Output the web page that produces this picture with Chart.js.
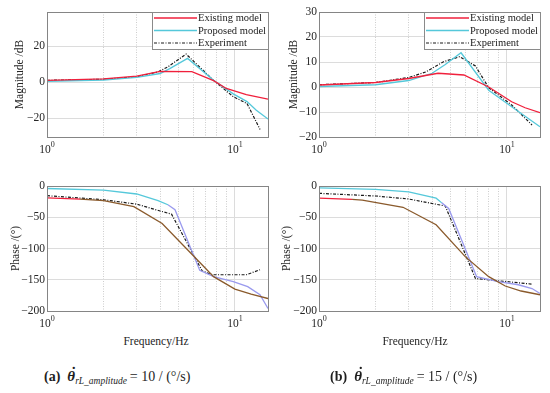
<!DOCTYPE html>
<html>
<head>
<meta charset="utf-8">
<script src="https://cdn.jsdelivr.net/npm/chart.js@4.4.1/dist/chart.umd.min.js"></script>
<style>
body { margin: 0; background: #fff; }
#wrap { position: relative; width: 550px; height: 393px; font-family: 'Liberation Serif', 'Times New Roman', serif; color: #1e1e1e; }
canvas { position: absolute; }
.xlbl { position: absolute; font-size: 11.5px; line-height: 14px; white-space: nowrap; transform: translateX(-50%); }
.cap { position: absolute; font-size: 14px; line-height: 20px; white-space: nowrap; }
.cap .th { position: relative; font-weight: bold; font-style: italic; font-size: 15px; margin-left: 7px; }
.cap .dot { position: absolute; left: 4px; top: -6px; font-style: normal; font-weight: bold; }
.cap sub { font-size: 9.5px; font-style: italic; vertical-align: -3px; }
.cap .eq { margin-left: 3px; }
</style>
</head>
<body>
<div id="wrap">
  <canvas id="magA" width="275" height="160" style="left:0;top:0"></canvas>
  <canvas id="magB" width="275" height="160" style="left:272px;top:0"></canvas>
  <canvas id="phaseA" width="275" height="160" style="left:0;top:174px"></canvas>
  <canvas id="phaseB" width="275" height="160" style="left:272px;top:174px"></canvas>
  <div class="xlbl" style="left:156px;top:334px">Frequency/Hz</div>
  <div class="xlbl" style="left:415px;top:334px">Frequency/Hz</div>
  <div class="cap" style="left:44px;top:366px"><b>(a)</b><span class="th">θ<span class="dot">˙</span></span><sub>rL_amplitude</sub><span class="eq">= 10 / (°/s)</span></div>
  <div class="cap" style="left:330px;top:366px"><b>(b)</b><span class="th">θ<span class="dot">˙</span></span><sub>rL_amplitude</sub><span class="eq">= 15 / (°/s)</span></div>
</div>
<script>
// (a) magnitude, dB
const existMagAFreq = [1, 2, 3, 4, 5.9, 7.7, 9, 11.5, 15];
const existMagA = [1.0, 1.8, 3.4, 6.0, 5.8, 0.8, -3.5, -6.9, -9.4];
const propMagAFreq = [1, 2, 3, 4, 4.5, 5.6, 7.7, 9.8, 11.6, 13, 15];
const propMagA = [0.5, 1.2, 2.6, 4.8, 7.5, 13.2, 1.0, -6.5, -10.8, -15.6, -20.5];
const expMagAFreq = [1, 2, 3, 3.9, 4.4, 5.5, 7.7, 9.8, 11.6, 13.6];
const expMagA = [1.0, 1.6, 3.0, 5.7, 8.5, 15.6, 1.0, -8.1, -11.9, -26.3];

// (b) magnitude, dB
const existMagBFreq = [1, 2, 3, 4.3, 5.9, 8, 10.6, 12.5, 15];
const existMagB = [0.8, 1.8, 3.4, 5.5, 4.8, 0, -5.9, -8.3, -10.3];
const propMagBFreq = [1, 2, 3, 4, 4.7, 5.7, 8, 10.6, 15];
const propMagB = [0.2, 0.9, 2.6, 5.5, 9.0, 13.7, -1.3, -7.9, -15.9];
const expMagBFreq = [1, 2, 3, 3.7, 4.6, 5.6, 6.8, 8, 10.6, 13.6];
const expMagB = [0.9, 1.8, 3.8, 6.0, 10.1, 12.1, 8.4, -0.3, -7.2, -15.2];

// (a) phase, deg
const existPhAFreq = [1, 1.5, 2, 2.9, 4.1, 6.3, 7.7, 10, 12.2, 15];
const existPhA = [-19, -21, -23.5, -33, -60, -118, -145, -165, -173, -180];
const propPhAFreq = [1, 2, 3, 3.9, 4.4, 4.8, 6.5, 7.7, 9.8, 11.7, 13.6, 15];
const propPhA = [-4, -6.5, -12.8, -23.5, -30, -38, -135, -145, -153, -161, -174, -196];
const expPhAFreq = [1, 2, 3, 4, 4.6, 6.7, 7.6, 11.5, 13.6];
const expPhA = [-15.5, -22, -29, -40, -45, -136, -142, -142, -134];

// (b) phase, deg
const existPhBFreq = [1, 1.5, 1.7, 2.8, 4.2, 6.0, 8.0, 9.8, 11.9, 15];
const existPhB = [-19.5, -21.5, -22.5, -34, -62, -113, -145, -160, -168, -174];
const propPhBFreq = [1, 2, 3, 4.2, 4.5, 4.9, 6.9, 9.0, 11.5, 13.6, 15];
const propPhB = [-3, -5.5, -9.5, -19.5, -27, -36, -145, -153, -158, -164, -172];
const expPhBFreq = [1, 2, 3, 4.7, 6.8, 13.6];
const expPhB = [-11.7, -16, -20.8, -32, -148, -157];

const xTicks = [1, 2, 3, 4, 5, 6, 7, 8, 9, 10];
const magATicks = [-20, 0, 20];
const magBTicks = [-20, -10, 0, 10, 20, 30];
const phaseTicks = [-200, -150, -100, -50, 0];

const RED = '#f0203c', CYAN = '#55c8da', BROWN = '#8a5a2c', LAVENDER = '#9a9aee', BLACK = '#1a1a1a';
const SERIF = "'Liberation Serif', 'Times New Roman', serif";

function series(label, freq, vals, color, extra) {
    return Object.assign({
        label: label,
        data: freq.map((f, i) => ({ x: f, y: vals[i] })),
        borderColor: color,
        borderWidth: 1.3,
        pointRadius: 0,
        fill: false,
        tension: 0
    }, extra || {});
}

function recolorAfter(split, color) {
    return { segment: { borderColor: c => c.p0.parsed.x >= split ? color : undefined } };
}

const dashDot = { borderDash: [3, 1.5, 1, 1.5], borderWidth: 1.2 };

// box around the axes, decade labels and the boxed legend
const framePlugin = {
    id: 'frame',
    afterDatasetsDraw(chart, args, opts) {
        const ctx = chart.ctx, a = chart.chartArea, x = chart.scales.x;
        ctx.save();
        ctx.strokeStyle = '#858585';
        ctx.lineWidth = 1;
        ctx.strokeRect(Math.round(a.left) + 0.5, Math.round(a.top) + 0.5,
            Math.round(a.right - a.left), Math.round(a.bottom - a.top));

        ctx.fillStyle = '#262626';
        ctx.textBaseline = 'middle';
        ctx.textAlign = 'left';
        [[1, '0'], [10, '1']].forEach(([v, e]) => {
            const px = x.getPixelForValue(v);
            const y = a.bottom + 12.5;
            ctx.font = '11.5px ' + SERIF;
            const w1 = ctx.measureText('10').width;
            ctx.font = '8px ' + SERIF;
            const w2 = ctx.measureText(e).width;
            const x0 = px - (w1 + w2) / 2;
            ctx.font = '11.5px ' + SERIF;
            ctx.fillText('10', x0, y);
            ctx.font = '8px ' + SERIF;
            ctx.fillText(e, x0 + w1, y - 5);
        });

        if (opts.legend) {
            const w = 116, h = 37, lx = Math.round(a.right) - w, ly = Math.round(a.top);
            ctx.fillStyle = '#fff';
            ctx.fillRect(lx, ly, w, h);
            ctx.strokeStyle = '#8a8a8a';
            ctx.lineWidth = 1;
            ctx.strokeRect(lx + 0.5, ly + 0.5, w, h);
            chart.data.datasets.forEach((ds, i) => {
                const yy = ly + 6 + i * 12.5;
                ctx.strokeStyle = ds.borderColor;
                ctx.lineWidth = ds.borderWidth;
                ctx.setLineDash(ds.borderDash || []);
                ctx.beginPath();
                ctx.moveTo(lx + 2, yy);
                ctx.lineTo(lx + 45, yy);
                ctx.stroke();
                ctx.setLineDash([]);
                ctx.fillStyle = '#1a1a1a';
                ctx.font = '10.5px ' + SERIF;
                ctx.fillText(ds.label, lx + 46, yy + 0.5);
            });
        }
        ctx.restore();
    }
};

function bode(id, datasets, y) {
    return new Chart(document.getElementById(id), {
        type: 'line',
        data: { datasets: datasets },
        options: {
            responsive: false,
            animation: false,
            devicePixelRatio: 1,
            events: [],
            layout: { padding: { left: 0, right: 7, top: 12, bottom: 0 } },
            plugins: {
                legend: { display: false },
                tooltip: { enabled: false },
                frame: { legend: y.legend }
            },
            scales: {
                x: {
                    type: 'logarithmic',
                    min: 1,
                    max: 15,
                    afterBuildTicks: s => { s.ticks = xTicks.map(v => ({ value: v })); },
                    afterFit: s => { s.height = 23; },
                    ticks: { display: false },
                    grid: {
                        drawTicks: false,
                        color: c => (c.tick && (c.tick.value === 1 || c.tick.value === 10)) ? '#dcdcdc' : '#cdcdcd'
                    },
                    border: {
                        display: false,
                        dash: c => (c.tick && (c.tick.value === 1 || c.tick.value === 10)) ? [] : [1, 1.5]
                    }
                },
                y: {
                    min: y.min,
                    max: y.max,
                    afterBuildTicks: s => { s.ticks = y.ticks.map(v => ({ value: v })); },
                    afterFit: s => { s.width = 47; },
                    ticks: {
                        padding: 2,
                        color: '#262626',
                        font: { family: SERIF, size: 11.5 },
                        callback: v => String(v).replace('-', '\u2212')
                    },
                    grid: { drawTicks: false, color: '#dcdcdc' },
                    border: { display: false },
                    title: {
                        display: true,
                        text: y.title,
                        color: '#262626',
                        font: { family: SERIF, size: 11.5 },
                        padding: { top: y.tpad, bottom: 0 }
                    }
                }
            }
        },
        plugins: [framePlugin]
    });
}

bode('magA', [
    series('Existing model', existMagAFreq, existMagA, RED),
    series('Proposed model', propMagAFreq, propMagA, CYAN),
    series('Experiment', expMagAFreq, expMagA, BLACK, dashDot)
], { min: -30.5, max: 39, ticks: magATicks, title: 'Magnitude /dB', tpad: 13, legend: true });

bode('magB', [
    series('Existing model', existMagBFreq, existMagB, RED),
    series('Proposed model', propMagBFreq, propMagB, CYAN),
    series('Experiment', expMagBFreq, expMagB, BLACK, dashDot)
], { min: -20, max: 30, ticks: magBTicks, title: 'Magnitude /dB', tpad: 15, legend: true });

bode('phaseA', [
    series('Existing model', existPhAFreq, existPhA, RED, recolorAfter(1.5, BROWN)),
    series('Proposed model', propPhAFreq, propPhA, CYAN, recolorAfter(4.4, LAVENDER)),
    series('Experiment', expPhAFreq, expPhA, BLACK, dashDot)
], { min: -200, max: 0, ticks: phaseTicks, title: 'Phase /(°)', tpad: 9, legend: false });

bode('phaseB', [
    series('Existing model', existPhBFreq, existPhB, RED, recolorAfter(1.5, BROWN)),
    series('Proposed model', propPhBFreq, propPhB, CYAN, recolorAfter(4.5, LAVENDER)),
    series('Experiment', expPhBFreq, expPhB, BLACK, dashDot)
], { min: -200, max: 0, ticks: phaseTicks, title: 'Phase /(°)', tpad: 8, legend: false });
</script>
</body>
</html>
